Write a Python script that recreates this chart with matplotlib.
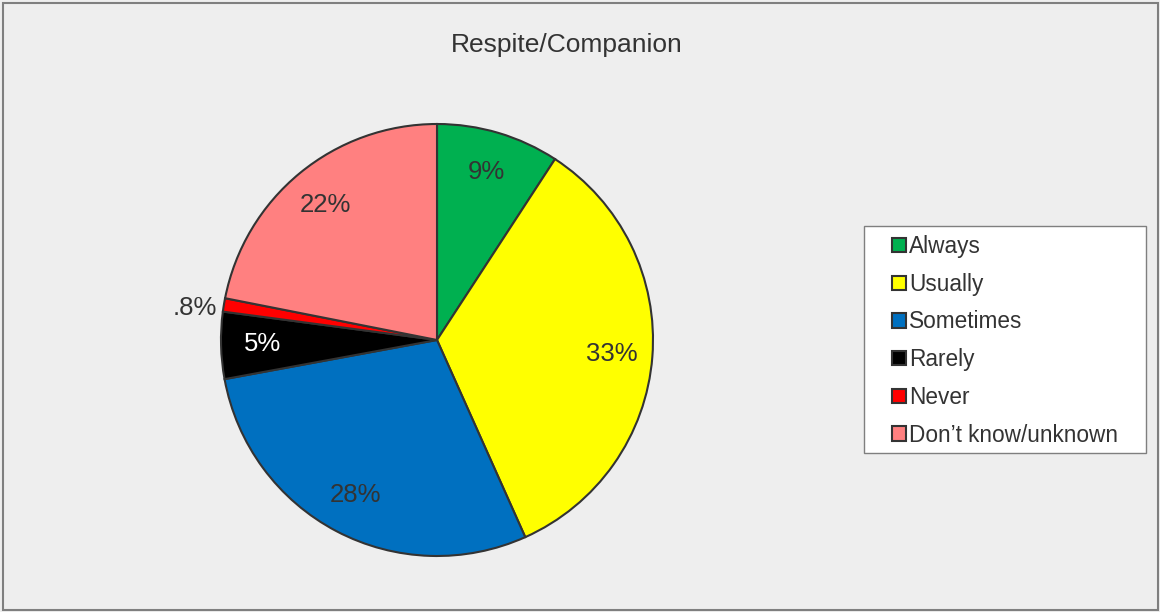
import matplotlib
matplotlib.use('Agg')
import matplotlib.pyplot as plt
import numpy as np
from matplotlib.patches import Rectangle

plt.rcParams['font.family'] = ['Liberation Sans', 'DejaVu Sans']

# slice sizes and the labels printed on them
categories = ['Always', 'Usually', 'Sometimes', 'Rarely', 'Never', 'Don\u2019t know/unknown']
values = [9.2, 34.1, 28.8, 5.0, 1.0, 21.9]
pct_labels = ['9%', '33%', '28%', '5%', '.8%', '22%']
colors = ['#00B050', '#FFFF00', '#0070C0', '#000000', '#FF0000', '#FF8080']
txtColor = '#333333'

fig = plt.figure(figsize=(11.6, 6.12), dpi=100)
fig.patch.set_facecolor('#EEEEEE')
fig.patches.append(Rectangle((3/1160, 2/612), 1155/1160, 607/612, transform=fig.transFigure,
                             fill=False, edgecolor='#7F7F7F', lw=1.5))

ax = fig.add_axes([221/1160, 56/612, 432/1160, 432/612])
wedges, _ = ax.pie(values, colors=colors, startangle=90, counterclock=False,
                   wedgeprops=dict(edgecolor='#333333', linewidth=1.5))
ax.set_xlim(-1, 1)
ax.set_ylim(-1, 1)
ax.set_aspect('equal')

for i, w in enumerate(wedges):
    ang = np.deg2rad((w.theta1 + w.theta2) / 2.0)
    c = 'white' if colors[i] == '#000000' else txtColor
    if categories[i] == 'Never':
        # small slice: label sits outside, right-aligned to the rim
        ax.text(1.03 * np.cos(ang), 1.03 * np.sin(ang) - 0.02, pct_labels[i], ha='right',
                va='center', fontsize=18.5, color=c, clip_on=False)
    else:
        ax.text(0.81 * np.cos(ang), 0.81 * np.sin(ang), pct_labels[i], ha='center',
                va='center', fontsize=18.5, color=c, clip_on=False)

fig.text(567/1160, 1 - 45/612, 'Respite/Companion', ha='center', va='center',
         fontsize=19, color=txtColor)

# legend frame drawn separately so the paddings can differ
fig.patches.append(Rectangle((864/1160, 1 - 453/612), 282/1160, 227/612, transform=fig.transFigure,
                             facecolor='white', edgecolor='#7F7F7F', lw=1.0))
leg = fig.legend(wedges, categories, loc='upper left', bbox_to_anchor=(892/1160, 1 - 235/612),
                 frameon=False, fontsize=16.3, handlelength=0.6, handleheight=0.6,
                 handletextpad=0.15, labelspacing=0.65, borderpad=0, borderaxespad=0)
for t in leg.get_texts():
    t.set_color(txtColor)

plt.savefig('out.png', dpi=100, facecolor=fig.get_facecolor())
plt.close()
